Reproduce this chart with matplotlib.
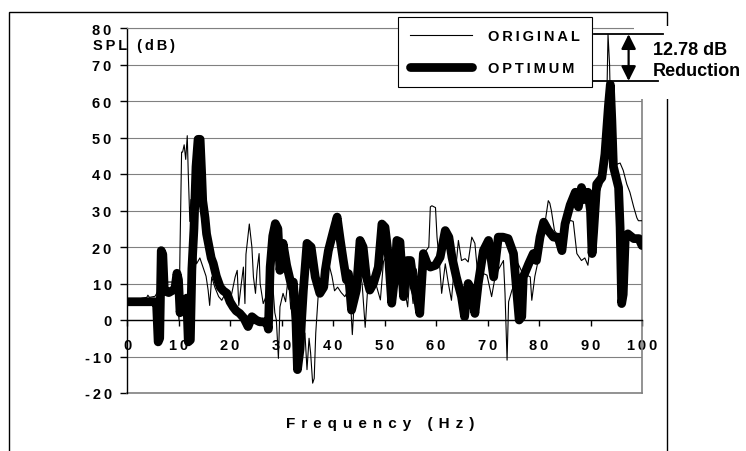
import matplotlib.pyplot as plt
from matplotlib.patches import Rectangle

plt.rcParams['font.family'] = ['Liberation Sans', 'DejaVu Sans']
plt.rcParams['font.weight'] = 'bold'

# spectrum
freq_original = [0, 1, 2, 3, 3.85, 4.05, 4.35, 5.45, 5.65, 6.05, 6.55, 7.05, 8.1, 9, 9.5, 9.8,
                 10.1, 10.3, 10.6, 10.8, 11.1, 11.4, 11.7, 11.9, 12.2, 12.4, 12.7, 13.1, 13.5,
                 14.15, 14.75, 15.35, 15.75, 16.05, 16.45, 17.05, 17.8, 18.4, 19, 19.7, 20.3,
                 21, 21.4, 21.7, 22.2, 22.6, 22.9, 23.1, 23.75, 24.25, 24.55, 24.95, 25.25,
                 25.65, 25.85, 26.25, 26.45, 27.25, 28.1, 28.7, 29, 29.4, 29.7, 30.3, 30.8,
                 31.3, 31.8, 32.3, 32.6, 33.1, 33.6, 34.55, 34.95, 35.35, 35.65, 36.05, 36.35,
                 36.65, 37.15, 37.9, 38.9, 39.8, 40.3, 40.9, 41.6, 42.3, 42.9, 43.4, 43.75,
                 44.25, 44.95, 45.65, 46.25, 46.75, 47.45, 48.3, 49.2, 49.8, 50.5, 51.1, 51.7,
                 52.3, 53, 53.7, 54.5, 54.95, 55.55, 56.15, 56.85, 57.55, 58.05, 58.6, 58.9,
                 59.2, 59.9, 60.2, 60.7, 61.1, 61.8, 62.4, 63, 63.4, 63.9, 64.35, 64.95, 65.65,
                 66.25, 66.95, 67.55, 68.2, 69.2, 69.9, 70.8, 71.5, 72.2, 73.1, 73.4, 73.8,
                 74.1, 74.75, 75.35, 75.95, 76.75, 78.3, 78.6, 79.2, 79.8, 80.4, 81.1, 81.8,
                 82.1, 82.4, 83, 83.8, 84.85, 86.05, 86.65, 87.35, 88.25, 88.9, 89.5, 89.9,
                 90.2, 90.7, 91.4, 92.2, 92.8, 93.1, 93.4, 93.7, 94, 94.35, 95.15, 95.75,
                 96.35, 97.05, 97.65, 98.4, 99, 99.3, 100]
spl_original = [5, 5.3, 5.6, 6, 6.2, 6.8, 6.2, 6.5, 7, 8, 9, 10.4, 10.4, 10.4, 10, 5,
                0, 20, 46, 46, 48, 44, 50.5, 40, 27, 33, 28, 20, 15.4,
                17, 14.5, 12, 8.2, 4, 11.8, 9, 6.4, 5.4, 7, 4.5, 7,
                11.8, 13.6, 4, 10, 14.5, 4.5, 18, 26.3, 20, 11.8, 7.3, 13.6,
                18.2, 10, 6.4, 4.5, 7.3, 13.6, 2, 0, -10.5, 3.6, 7.3, 5,
                12, 3, 10, 0, 8, -2, -3.6, -13.6, -5, -9, -17.3, -16,
                -3.6, 7.3, 10, 17, 12, 8, 9, 7.5, 6.4, 8, 5, -4,
                8, 15, 10, -2, 9, 12, 10, 5.5, 16, 18, 12, 6,
                14, 16, 10, 3.6, 12.7, 4.5, 14, 8, 10, 19, 20, 31,
                31.3, 30.8, 22.7, 15, 7.3, 15.4, 10, 5.4, 12, 15, 21.8, 16.3, 16.8,
                15.9, 22.7, 21, 11, 12.7, 12.3, 6.4, 12, 14, 16.3, 7.3, -11,
                5, 8.2, 10, 15.4, 13, 11.8, 5.4, 12, 16, 20, 26, 32.7,
                32, 30, 24.5, 23, 24, 27.3, 27, 18.2, 16.3, 17, 15, 20,
                28, 31, 34, 37, 43.6, 55, 78.3, 70, 50, 43, 42.7, 43,
                41, 37.2, 35, 30.9, 28, 27.2, 27.2]

freq_optimum = [0, 5.45, 5.75, 6.05, 6.35, 6.65, 6.95, 7.25, 8.1, 8.7, 9.3, 9.7, 10, 10.3,
                10.7, 11.1, 11.6, 11.9, 12.3, 12.6, 13, 13.4, 13.8, 14.2, 14.5, 14.7, 15.15,
                15.45, 15.95, 16.35, 16.75, 17.35, 18.1, 18.7, 19.4, 20, 20.6, 21.2, 21.9,
                22.7, 23.5, 24.25, 25.05, 25.75, 26.45, 27.2, 27.45, 27.8, 28.3, 28.8, 29.3,
                29.7, 30.3, 31, 31.5, 32, 32.3, 32.8, 33.1, 33.6, 33.9, 34.25, 34.95, 35.75,
                36.55, 37.45, 38.2, 38.5, 39.1, 40.1, 40.8, 41.4, 42, 42.6, 43, 43.6, 44.55,
                45.25, 45.85, 46.45, 47.15, 47.85, 48.8, 49.5, 50.1, 50.8, 51.4, 52, 52.4, 53,
                53.7, 54.45, 55.05, 55.75, 56.35, 56.85, 57.55, 58.3, 58.9, 59.9, 60.8, 61.8,
                62.5, 63.1, 63.95, 64.95, 65.55, 66.25, 66.95, 67.55, 68.2, 69.2, 70.2, 71.2,
                72.1, 73, 74, 75.05, 75.65, 76.15, 76.65, 76.95, 78, 78.9, 79.5, 80.2, 80.9,
                81.8, 82.8, 83.7, 84.45, 85.05, 86.05, 87.05, 87.65, 88.25, 88.9, 89.5, 90,
                90.3, 90.6, 91.2, 92.2, 92.8, 93.5, 93.85, 94.15, 94.45, 95.45, 95.75, 96.05,
                96.35, 96.75, 97.25, 98.4, 99.4, 100]
spl_optimum = [5, 5, 4, -6, -5, 19, 18, 8, 7.5, 8, 8.5, 12.8, 11, 2,
               5, 4, 6, -6, -5.5, 14, 25, 42, 49.5, 49.5, 40, 32.7, 28,
               23.6, 20, 17, 15.5, 12, 9, 8, 7.3, 5, 3.6, 2.5, 1.8,
               0.5, -1.8, 0.9, 0, -0.5, -0.5, -0.9, -2.5, 14.5, 23, 26.4, 25,
               13.6, 21, 15, 12, 9, 10.4, 0, -13.6, -8, 0, 8.2, 21, 20,
               11.8, 7.3, 9, 13.6, 19, 24.5, 28.2, 22, 16.3, 11, 12.7, 2.7, 8.2,
               21.8, 20, 12, 8.2, 10, 14.5, 26.3, 25.4, 17, 4.6, 12, 21.8, 21.4,
               6.4, 16.3, 16.3, 9, 6.4, 1.8, 18.2, 15.4, 14.5, 15, 17.2, 24.5,
               22.7, 17.2, 11.8, 6.4, 0.9, 10, 8.2, 1.8, 10, 19, 21.8, 11.8,
               22.7, 22.7, 22.3, 18.2, 8.2, 0, 0.9, 11.8, 15.4, 18.2, 16.3, 22.7, 26.8,
               24.5, 22.7, 22.7, 19, 26.3, 31.5, 35, 31, 36.3, 33, 35, 30,
               18.2, 24, 37.2, 39, 45.4, 59, 64.5, 54.5, 42, 36.3, 25.4, 4.5,
               7, 22.7, 23.6, 22.3, 22.3, 20.4]

x_ticks = list(range(0, 101, 10))
y_ticks = list(range(-20, 81, 10))
legend_labels = ['ORIGINAL', 'OPTIMUM']
reduction_text = '12.78 dB\nReduction'

GRID = '#808080'
W, H = 746, 452


def spaced(s, gap='\u2009'):
    # the source chart draws its labels letter-spaced
    return gap.join(s)


fig = plt.figure(figsize=(W / 100, H / 100), dpi=100)
ax = fig.add_axes([127 / W, 1 - 394 / H, (642 - 127) / W, (394 - 29) / H])

ax.plot(freq_original, spl_original, color='black', lw=0.8, zorder=3,
        label=spaced(legend_labels[0]))
ax.plot(freq_optimum, spl_optimum, color='black', lw=6.3, zorder=4,
        solid_joinstyle='round', solid_capstyle='round',
        label=spaced(legend_labels[1]))

ax.set_xlim(0, 100)
ax.set_ylim(-20, 80)
ax.set_xticks(x_ticks)
ax.set_xticklabels([spaced(str(v)) for v in x_ticks])
ax.set_yticks(y_ticks)
ax.set_yticklabels([spaced(str(v)) for v in y_ticks])
ax.grid(axis='y', color=GRID, lw=0.8)
ax.set_axisbelow(True)
ax.axhline(-20, color=GRID, lw=1.2, clip_on=False, zorder=2)

ax.spines['bottom'].set_position(('data', 0))
ax.spines['bottom'].set_linewidth(1)
ax.spines['left'].set_linewidth(1)
ax.spines['top'].set_color(GRID)
ax.spines['right'].set_color(GRID)
ax.spines['right'].set_linewidth(1.2)
ax.tick_params(axis='y', direction='out', length=5, width=1, pad=6, labelsize=10.5)
ax.tick_params(axis='x', direction='out', length=4, width=1, pad=9, labelsize=10.5)

fig.text(93 / W, 1 - 46 / H, spaced('SPL (dB)'), fontsize=10.5, va='center', ha='left')
fig.text(380 / W, 1 - 424 / H, spaced('Frequency (Hz)', '\u2009\u2009'), fontsize=11,
         va='center', ha='center')

# outer chart border, partly hidden behind the annotation
ax.add_patch(Rectangle((9 / W, -0.1), (667 - 9) / W, 1.1 - 13 / H,
                       transform=fig.transFigure, fill=False, ec='black', lw=1,
                       clip_on=False, zorder=1))
ax.add_patch(Rectangle((634 / W, 1 - 100 / H), (W - 634) / W, 73 / H,
                       transform=fig.transFigure, fc='white', ec='none',
                       clip_on=False, zorder=5))

# peak reduction marker
top = max(spl_original)
bot = max(spl_optimum) + 1
ax.plot([90.7, 104.1], [top, top], color='black', lw=1.3, clip_on=False, zorder=6)
ax.plot([90.3, 103.1], [bot, bot], color='black', lw=1.3, clip_on=False, zorder=6)
ax.annotate('', xy=(97.4, top), xytext=(97.4, bot), annotation_clip=False, zorder=6,
            arrowprops=dict(arrowstyle='<|-|>', color='black', lw=1.6,
                            mutation_scale=22, shrinkA=0, shrinkB=0))
ax.text(653 / W, 1 - 61 / H, reduction_text, transform=fig.transFigure,
        family=['Liberation Sans Narrow', 'Liberation Sans'], fontsize=13,
        weight='bold', ha='left', va='center', linespacing=1.25, zorder=7)

leg = fig.legend(loc='upper left', bbox_to_anchor=(398 / W, 1 - 18 / H),
                 frameon=True, fancybox=False, edgecolor='black', framealpha=1,
                 fontsize=10.5, handlelength=4.3, labelspacing=1.25, borderpad=0.8,
                 handletextpad=1.1, borderaxespad=0)
leg.get_frame().set_linewidth(0.8)

fig.savefig('out.png', dpi=100)
